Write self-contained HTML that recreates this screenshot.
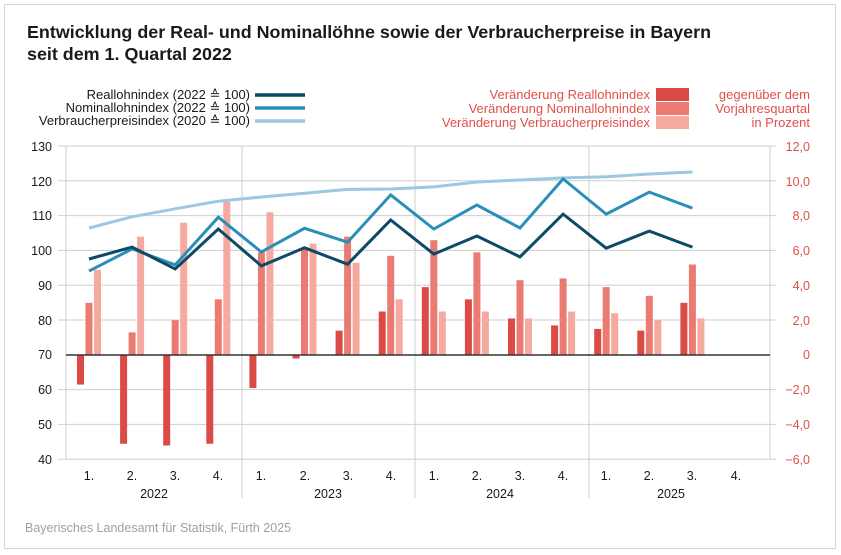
<!DOCTYPE html>
<html><head><meta charset="utf-8"><style>
body{margin:0;background:#fff;}
svg{display:block;font-family:"Liberation Sans",sans-serif;}
</style></head><body>
<svg id="s" width="841" height="555" xmlns="http://www.w3.org/2000/svg">
<rect x="4.5" y="4.5" width="831" height="544" fill="#fff" stroke="#d6d6d6" stroke-width="1"/>
<text x="27" y="38" font-size="17.9" font-weight="bold" fill="#1a1a1a">Entwicklung der Real- und Nominallöhne sowie der Verbraucherpreise in Bayern</text>
<text x="27" y="60" font-size="17.9" font-weight="bold" fill="#1a1a1a">seit dem 1. Quartal 2022</text>
<g font-size="13" fill="#1a1a1a" text-anchor="end">
<text x="250" y="99">Reallohnindex (2022 ≙ 100)</text>
<text x="250" y="112">Nominallohnindex (2022 ≙ 100)</text>
<text x="250" y="125">Verbraucherpreisindex (2020 ≙ 100)</text>
</g>
<line x1="255" y1="95" x2="305" y2="95" stroke="#0d4a66" stroke-width="3.5"/>
<line x1="255" y1="108" x2="305" y2="108" stroke="#2a8fb8" stroke-width="3.5"/>
<line x1="255" y1="121" x2="305" y2="121" stroke="#9cc8e2" stroke-width="3.5"/>
<g font-size="13" fill="#e0504a" text-anchor="end">
<text x="650" y="99">Veränderung Reallohnindex</text>
<text x="650" y="113">Veränderung Nominallohnindex</text>
<text x="650" y="127">Veränderung Verbraucherpreisindex</text>
<text x="810" y="99">gegenüber dem</text>
<text x="810" y="113">Vorjahresquartal</text>
<text x="810" y="127">in Prozent</text>
</g>
<rect x="656" y="88" width="33" height="13" fill="#dc4a46"/>
<rect x="656" y="102" width="33" height="13" fill="#ea7b72"/>
<rect x="656" y="116" width="33" height="13" fill="#f5a99f"/>
<g id="grid"></g>
<g font-size="12.5" fill="#1a1a1a" text-anchor="end">
<text x="52" y="151">130</text><text x="52" y="186">120</text><text x="52" y="220">110</text><text x="52" y="255">100</text>
<text x="52" y="290">90</text><text x="52" y="325">80</text><text x="52" y="359">70</text><text x="52" y="394">60</text>
<text x="52" y="429">50</text><text x="52" y="464">40</text>
</g>
<g font-size="12.5" fill="#e0504a" text-anchor="end">
<text x="810" y="151">12,0</text><text x="810" y="186">10,0</text><text x="810" y="220">8,0</text><text x="810" y="255">6,0</text>
<text x="810" y="290">4,0</text><text x="810" y="325">2,0</text><text x="810" y="359">0</text><text x="810" y="394">−2,0</text>
<text x="810" y="429">−4,0</text><text x="810" y="464">−6,0</text>
</g>
<g font-size="12.5" fill="#1a1a1a" text-anchor="middle">
<text x="89" y="480">1.</text><text x="132" y="480">2.</text><text x="175" y="480">3.</text><text x="218" y="480">4.</text>
<text x="261" y="480">1.</text><text x="305" y="480">2.</text><text x="348" y="480">3.</text><text x="391" y="480">4.</text>
<text x="434" y="480">1.</text><text x="477" y="480">2.</text><text x="520" y="480">3.</text><text x="563" y="480">4.</text>
<text x="606" y="480">1.</text><text x="649" y="480">2.</text><text x="692" y="480">3.</text><text x="736" y="480">4.</text>
<text x="154" y="498">2022</text><text x="328" y="498">2023</text><text x="500" y="498">2024</text><text x="671" y="498">2025</text>
</g>
<text x="25" y="532" font-size="12.5" fill="#a0a0a0">Bayerisches Landesamt für Statistik, Fürth 2025</text>
<g id="bars"></g>
<g id="lines"></g>
</svg>
<script>
var NS="http://www.w3.org/2000/svg";
function el(p,t,a){var e=document.createElementNS(NS,t);for(var k in a)e.setAttribute(k,a[k]);document.getElementById(p).appendChild(e);return e;}
for(var i=0;i<10;i++){var y=146+i*34.8;
 el("grid","line",{x1:58,x2:776,y1:y,y2:y,stroke:i==6?"#333":"#cfcfcf","stroke-width":i==6?0:1});}
el("grid","line",{x1:66,x2:66,y1:146,y2:459,stroke:"#cfcfcf"});
el("grid","line",{x1:770,x2:770,y1:146,y2:459,stroke:"#cfcfcf"});
[242,415,589].forEach(function(x){el("grid","line",{x1:x,x2:x,y1:146,y2:498,stroke:"#cfcfcf"});});
var cx=[];for(var i=0;i<16;i++)cx.push(89+43.1*i);
var dr=[-1.7,-5.1,-5.2,-5.1,-1.9,-0.2,1.4,2.5,3.9,3.2,2.1,1.7,1.5,1.4,3.0];
var nm=[3.0,1.3,2.0,3.2,5.9,6.1,6.8,5.7,6.6,5.9,4.3,4.4,3.9,3.4,5.2];
var cp=[4.9,6.8,7.6,8.8,8.2,6.4,5.3,3.2,2.5,2.5,2.1,2.5,2.4,2.0,2.1];
function bar(x,v,c){var y=355-v*17.4;el("bars","rect",{x:x,y:Math.min(y,355),width:7,height:Math.abs(v*17.4),fill:c});}
for(var i=0;i<15;i++){bar(cx[i]-12,dr[i],"#dc4a46");bar(cx[i]-3.5,nm[i],"#ea7b72");bar(cx[i]+5,cp[i],"#f5a99f");}
el("bars","line",{x1:66,x2:770,y1:355,y2:355,stroke:"#333","stroke-width":1.5});
function line(vals,c){var p=vals.map(function(v,i){return cx[i].toFixed(1)+","+(355-(v-70)*3.48).toFixed(1);}).join(" ");
 el("lines","polyline",{points:p,fill:"none",stroke:c,"stroke-width":3,"stroke-linejoin":"miter"});}
line([106.5,109.7,112,114.2,115.4,116.5,117.6,117.7,118.3,119.7,120.3,120.9,121.2,122,122.6],"#9cc8e2");
line([94.1,100.5,95.9,109.6,99.6,106.4,102.4,116,106.2,113.1,106.5,120.6,110.5,116.8,112.2],"#2a8fb8");
line([97.6,101,94.7,106.2,95.6,100.8,96.1,108.8,99,104.2,98.2,110.5,100.7,105.6,101],"#0d4a66");
</script>
</body></html>
